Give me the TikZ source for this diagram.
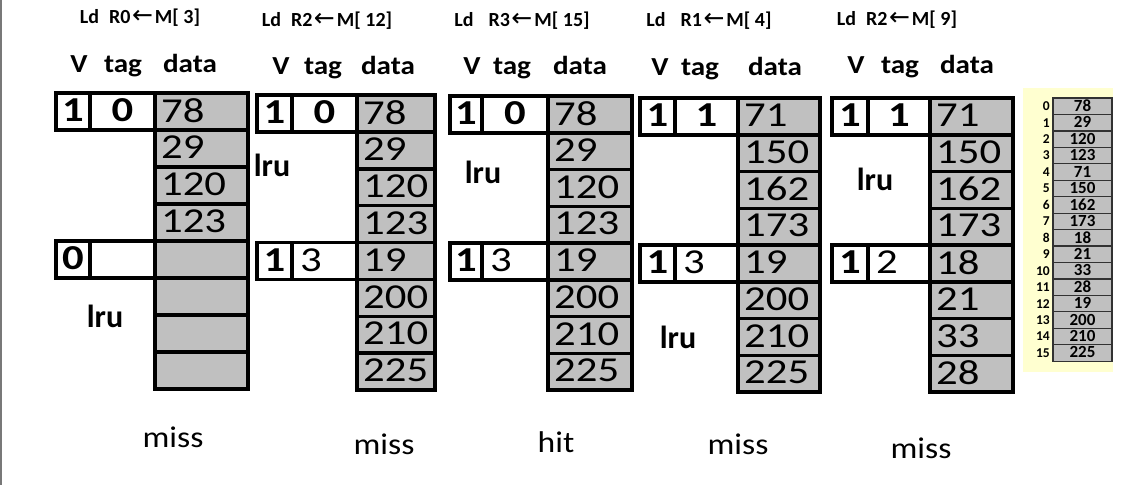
\documentclass[tikz,border=0pt]{standalone}
\usepackage{fontspec}
\setmainfont{Carlito}
\newfontfamily\fdata{Carlito}[FakeStretch=1.22]
\newfontfamily\fhead{Carlito}[FakeStretch=1.12]
\newfontfamily\farrow{DejaVu Sans}
\definecolor{cellgray}{RGB}{192,192,192}
\definecolor{memyellow}{RGB}{255,255,208}
\definecolor{framegray}{RGB}{120,120,120}
\definecolor{memline}{RGB}{50,50,50}
\tikzset{
  tagcell/.style={draw=black, line width=3.5pt, fill=white, inner sep=0pt, outer sep=0pt},
  datacell/.style={draw=black, line width=3.5pt, fill=cellgray, inner sep=0pt, outer sep=0pt},
  bigtext/.style={inner sep=0pt, font=\fdata\fontsize{35}{38}\selectfont},
  cmdtext/.style={inner sep=0pt, anchor=base, font=\bfseries\fontsize{20}{22}\selectfont},
  coltext/.style={inner sep=0pt, anchor=base, font=\fhead\bfseries\fontsize{26}{28}\selectfont},
  lrutext/.style={inner sep=0pt, anchor=base, font=\bfseries\fontsize{32}{34}\selectfont},
  restext/.style={inner sep=0pt, anchor=base, font=\fhead\fontsize{30}{32}\selectfont},
  memback/.style={fill=memyellow, draw=none, inner sep=0pt, outer sep=0pt},
  memcell/.style={fill=cellgray, draw=memline, line width=1.2pt, inner sep=0pt, outer sep=0pt},
  memtext/.style={inner sep=0pt, font=\bfseries\fontsize{17}{18}\selectfont},
  idxtext/.style={inner sep=0pt, anchor=east, font=\bfseries\fontsize{13.5}{14}\selectfont},
}
\newcommand\larr{\hspace{1.5pt}{\farrow\mdseries\fontsize{25}{25}\selectfont\raisebox{-0.5pt}{←}}\hspace{2pt}}
% box node from corner (x1,y1) to (x2,y2)
\newcommand\cbox[6]{%
  \pgfmathsetmacro\rkW{#4-#2}\pgfmathsetmacro\rkHt{#5-#3}%
  \pgfmathsetmacro\rkX{(#2+#4)/2}\pgfmathsetmacro\rkY{(#3+#5)/2}%
  \node[#6, minimum width=\rkW pt, minimum height=\rkHt pt] (#1) at (\rkX,\rkY) {};}
% id, xL, xVT, xTD, xR, ytop, ybot
\newcommand\cachepanel[7]{%
  \pgfmathsetmacro\rkH{(#7-#6)/8}%
  \pgfmathsetmacro\rkRa{#6+\rkH}%
  \pgfmathsetmacro\rkRc{#6+4*\rkH}%
  \pgfmathsetmacro\rkRd{#6+5*\rkH}%
  \cbox{#1-v1}{#2}{#6}{#3}{\rkRa}{tagcell}%
  \cbox{#1-t1}{#3}{#6}{#4}{\rkRa}{tagcell}%
  \cbox{#1-v2}{#2}{\rkRc}{#3}{\rkRd}{tagcell}%
  \cbox{#1-t2}{#3}{\rkRc}{#4}{\rkRd}{tagcell}%
  \node[bigtext] (#1-v1t) at ([yshift=1pt]#1-v1.center) {\rkVa};%
  \node[bigtext] (#1-t1t) at ([yshift=1pt]#1-t1.center) {\rkTa};%
  \node[bigtext] (#1-v2t) at ([yshift=1pt]#1-v2.center) {\rkVb};%
  \node[bigtext, anchor=west] (#1-t2t) at ([xshift=8pt,yshift=1pt]#1-t2.west) {\rkTb};%
  \foreach \rkv [count=\i] in \rkData {%
    \pgfmathsetmacro\rkA{#6+(\i-1)*\rkH}%
    \pgfmathsetmacro\rkB{#6+\i*\rkH}%
    \cbox{#1-d\i}{#4}{\rkA}{#5}{\rkB}{datacell}%
    \node[bigtext, anchor=west] (#1-d\i-t) at ([xshift=6pt,yshift=1pt]#1-d\i.west) {\rkv};%
  }%
}
\begin{document}
\begin{tikzpicture}[x=1pt,y=-1pt]
\useasboundingbox (0,0) rectangle (1125,485);
\draw[framegray, line width=1.5pt] (1,0) -- (1,485);

% ---- panel 1
\def\rkData{78,29,120,123,{},{},{},{}}
\def\rkVa{\bfseries 1}\def\rkTa{\bfseries 0}\def\rkVb{\bfseries 0}\def\rkTb{}
\cachepanel{p1}{56}{90}{155}{248}{93}{389}
% ---- panel 2
\def\rkData{78,29,120,123,19,200,210,225}
\def\rkVa{\bfseries 1}\def\rkTa{\bfseries 0}\def\rkVb{\bfseries 1}\def\rkTb{3}
\cachepanel{p2}{257}{292}{357}{435}{95}{390}
% ---- panel 3
\def\rkData{78,29,120,123,19,200,210,225}
\def\rkVa{\bfseries 1}\def\rkTa{\bfseries 0}\def\rkVb{\bfseries 1}\def\rkTb{3}
\cachepanel{p3}{450}{482}{548}{632}{96}{390}
% ---- panel 4
\def\rkData{71,150,162,173,19,200,210,225}
\def\rkVa{\bfseries 1}\def\rkTa{\bfseries 1}\def\rkVb{\bfseries 1}\def\rkTb{3}
\cachepanel{p4}{640}{675}{738}{820}{98}{392}
% ---- panel 5
\def\rkData{71,150,162,173,18,21,33,28}
\def\rkVa{\bfseries 1}\def\rkTa{\bfseries 1}\def\rkVb{\bfseries 1}\def\rkTb{2}
\cachepanel{p5}{832}{868}{930}{1013}{98}{392}

% ---- instruction headers
\node[cmdtext] (c1) at (140,23) {Ld\hspace{0.5em}R0\larr M[ 3]};
\node[cmdtext] (c2) at (327,26) {Ld\hspace{0.5em}R2\larr M[ 12]};
\node[cmdtext] (c3) at (522,26) {Ld\hspace{0.75em}R3\larr M[ 15]};
\node[cmdtext] (c4) at (709,26) {Ld\hspace{0.75em}R1\larr M[ 4]};
\node[cmdtext] (c5) at (897,25) {Ld\hspace{0.5em}R2\larr M[ 9]};

% ---- column headers
\node[coltext] (h1v) at (79,72) {V};
\node[coltext] (h1t) at (123,72) {tag};
\node[coltext] (h1d) at (190,72) {data};
\node[coltext] (h2v) at (281,74) {V};
\node[coltext] (h2t) at (323,74) {tag};
\node[coltext] (h2d) at (388,74) {data};
\node[coltext] (h3v) at (472,74) {V};
\node[coltext] (h3t) at (512,74) {tag};
\node[coltext] (h3d) at (580,74) {data};
\node[coltext] (h4v) at (660,75) {V};
\node[coltext] (h4t) at (700,75) {tag};
\node[coltext] (h4d) at (775,75) {data};
\node[coltext] (h5v) at (856,73) {V};
\node[coltext] (h5t) at (900,73) {tag};
\node[coltext] (h5d) at (967,73) {data};

% ---- lru marks
\node[lrutext] (l1) at (105,327) {lru};
\node[lrutext] (l2) at (272,176) {lru};
\node[lrutext] (l3) at (483,183) {lru};
\node[lrutext] (l4) at (678,348) {lru};
\node[lrutext] (l5) at (875,190) {lru};

% ---- results
\node[restext] (r1) at (173,447) {miss};
\node[restext] (r2) at (384,454) {miss};
\node[restext] (r3) at (556,452) {hit};
\node[restext] (r4) at (738,454) {miss};
\node[restext] (r5) at (921,458) {miss};

% ---- memory
\cbox{memback}{1023}{88}{1113}{372}{memback}
\foreach \rkv [count=\i from 0] in {78,29,120,123,71,150,162,173,18,21,33,28,19,200,210,225} {
  \pgfmathsetmacro\rkA{98+\i*16.45}
  \pgfmathsetmacro\rkB{98+(\i+1)*16.45}
  \cbox{m\i}{1053}{\rkA}{1112}{\rkB}{memcell}
  \node[memtext] (m\i-t) at ([yshift=0.5pt]m\i.center) {\rkv};
  \node[idxtext] (m\i-i) at ([xshift=-3pt]m\i.west) {\i};
}
\end{tikzpicture}
\end{document}
